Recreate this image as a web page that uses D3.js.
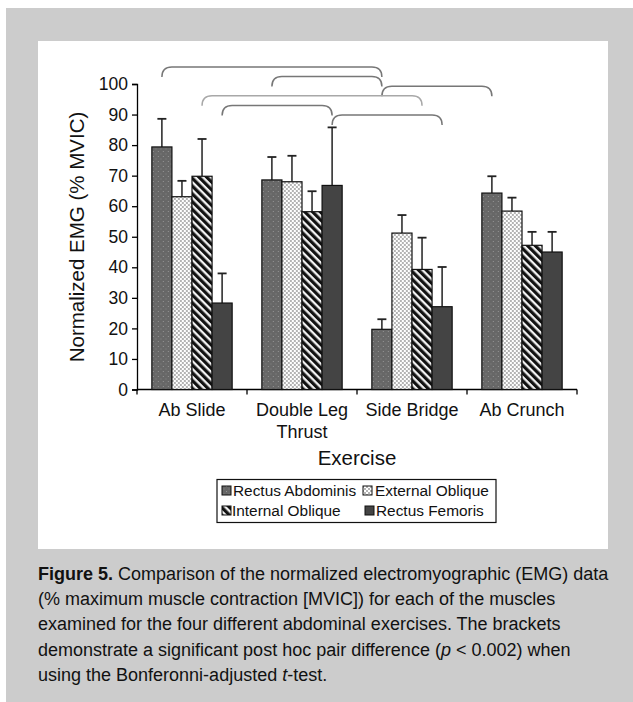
<!DOCTYPE html>
<html>
<head>
<meta charset="utf-8">
<title>Figure 5 | D3</title>
<style>
    body { margin: 0; background: #fff; }
    svg { display: block; }
</style>
<script src="https://d3js.org/d3.v7.min.js"></script>
</head>
<body>
<script>
// data
var exercises = ["Ab Slide", "Double Leg Thrust", "Side Bridge", "Ab Crunch"];
var muscles = ["Rectus Abdominis", "External Oblique", "Internal Oblique", "Rectus Femoris"];
// mean values, one row per exercise, columns follow muscles
var means = [
    [79.4, 63.1, 69.8, 28.3],
    [68.6, 68.0, 58.2, 66.8],
    [19.7, 51.2, 39.3, 27.1],
    [64.3, 58.4, 47.2, 45.0]
];
// top of each error bar
var errTops = [
    [88.6, 68.3, 82.0, 38.0],
    [76.1, 76.5, 64.9, 85.8],
    [23.0, 57.1, 49.7, 40.1],
    [69.8, 62.8, 51.6, 51.6]
];
var yTicks = [0, 10, 20, 30, 40, 50, 60, 70, 80, 90, 100];
// significant pairs: [exercise, muscle] -> [exercise, muscle], level from top
var brackets = [
    { from: [0, 0], to: [2, 0], level: 0, light: false },
    { from: [1, 0], to: [2, 0], level: 1, light: false },
    { from: [2, 0], to: [3, 0], level: 2, light: false },
    { from: [0, 2], to: [2, 2], level: 3, light: true },
    { from: [0, 3], to: [1, 3], level: 4, light: false },
    { from: [1, 3], to: [2, 3], level: 5, light: false }
];

var W = 633, H = 702;
var svg = d3.select("body").append("svg").attr("width", W).attr("height", H);

// grey page frame and white panel
svg.append("rect").attr("x", 6).attr("y", 8).attr("width", W - 6).attr("height", H - 8).attr("fill", "#cccccc");
svg.append("rect").attr("x", 38).attr("y", 41).attr("width", 570).attr("height", 508).attr("fill", "#ffffff");

// patterns
var defs = svg.append("defs");
var pRA = defs.append("pattern").attr("id", "pRA").attr("patternUnits", "userSpaceOnUse")
    .attr("width", 5).attr("height", 5);
pRA.append("rect").attr("width", 5).attr("height", 5).attr("fill", "#676767");
pRA.append("rect").attr("x", 1).attr("y", 1).attr("width", 1).attr("height", 1).attr("fill", "#959595");
pRA.append("rect").attr("x", 3.5).attr("y", 3.5).attr("width", 1).attr("height", 1).attr("fill", "#858585");

var pEO = defs.append("pattern").attr("id", "pEO").attr("patternUnits", "userSpaceOnUse")
    .attr("width", 4).attr("height", 4);
pEO.append("rect").attr("width", 4).attr("height", 4).attr("fill", "#ffffff");
pEO.append("rect").attr("width", 2).attr("height", 2).attr("fill", "#b4b4b4");
pEO.append("rect").attr("x", 2).attr("y", 2).attr("width", 2).attr("height", 2).attr("fill", "#b4b4b4");

var pIO = defs.append("pattern").attr("id", "pIO").attr("patternUnits", "userSpaceOnUse")
    .attr("width", 5.5).attr("height", 5.5).attr("patternTransform", "rotate(-45)");
pIO.append("rect").attr("width", 5.5).attr("height", 5.5).attr("fill", "#f2f2f2");
pIO.append("rect").attr("width", 3.2).attr("height", 5.5).attr("fill", "#111111");

var fills = ["url(#pRA)", "url(#pEO)", "url(#pIO)", "#444444"];

// scales
var x0 = d3.scaleBand().domain(d3.range(exercises.length)).range([137, 577])
    .paddingInner(0.27).paddingOuter(0.135);
var x1 = d3.scaleBand().domain(d3.range(muscles.length)).range([0, x0.bandwidth()]);
var y = d3.scaleLinear().domain([0, 100]).range([389.5, 84]);

var font = "'Liberation Sans', Arial, sans-serif";

// y axis
var yAxis = svg.append("g").attr("transform", "translate(137,0)")
    .call(d3.axisLeft(y).tickValues(yTicks).tickSize(5).tickPadding(4));
yAxis.select(".domain").attr("stroke", "#000").attr("stroke-width", 1.3);
yAxis.selectAll(".tick line").attr("stroke", "#000").attr("stroke-width", 1.3);
yAxis.selectAll("text").attr("font-family", font).attr("font-size", 17.5).attr("fill", "#111");

// x axis: ticks on group boundaries
var xAxisG = svg.append("g");
xAxisG.append("line").attr("x1", 137).attr("x2", 577).attr("y1", y(0)).attr("y2", y(0))
    .attr("stroke", "#000").attr("stroke-width", 1.3);
var bounds = d3.range(exercises.length + 1).map(function(i) { return 137 + i * x0.step(); });
xAxisG.selectAll(".xt").data(bounds).enter().append("line")
    .attr("x1", function(d) { return d; }).attr("x2", function(d) { return d; })
    .attr("y1", y(0)).attr("y2", y(0) + 5)
    .attr("stroke", "#000").attr("stroke-width", 1.3);

var catLabels = xAxisG.selectAll(".cat").data(exercises).enter().append("text")
    .attr("text-anchor", "middle").attr("font-family", font).attr("font-size", 18).attr("fill", "#111")
    .attr("transform", function(d, i) { return "translate(" + (x0(i) + x0.bandwidth() / 2) + ",416)"; });
catLabels.each(function(d) {
    var t = d3.select(this);
    var parts = d === "Double Leg Thrust" ? ["Double Leg", "Thrust"] : [d];
    parts.forEach(function(p, k) {
        t.append("tspan").attr("x", 0).attr("dy", k === 0 ? 0 : 22).text(p);
    });
});

// bars
var groups = svg.selectAll(".grp").data(exercises).enter().append("g")
    .attr("transform", function(d, i) { return "translate(" + x0(i) + ",0)"; });

groups.each(function(d, i) {
    var g = d3.select(this);
    muscles.forEach(function(m, j) {
        var cx = x1(j) + x1.bandwidth() / 2;
        g.append("line").attr("x1", cx).attr("x2", cx)
            .attr("y1", y(means[i][j])).attr("y2", y(errTops[i][j]))
            .attr("stroke", "#222").attr("stroke-width", 1.5);
        g.append("line").attr("x1", cx - 4.5).attr("x2", cx + 4.5)
            .attr("y1", y(errTops[i][j])).attr("y2", y(errTops[i][j]))
            .attr("stroke", "#222").attr("stroke-width", 1.8);
        g.append("rect").attr("x", x1(j)).attr("width", x1.bandwidth())
            .attr("y", y(means[i][j])).attr("height", y(0) - y(means[i][j]))
            .attr("fill", fills[j]).attr("stroke", "#111").attr("stroke-width", 1.2);
    });
});

// brackets
function barCenter(p) { return x0(p[0]) + x1(p[1]) + x1.bandwidth() / 2; }
var bTop = d3.scaleLinear().domain([0, 5]).range([67, 115]);
svg.selectAll(".br").data(brackets).enter().append("path")
    .attr("fill", "none")
    .attr("stroke", function(d) { return d.light ? "#a8a8a8" : "#777777"; })
    .attr("stroke-width", 1.5)
    .attr("d", function(d) {
        var xa = barCenter(d.from), xb = barCenter(d.to), yt = bTop(d.level), r = 10;
        return "M" + xa + "," + (yt + r) + " Q" + xa + "," + yt + " " + (xa + r) + "," + yt +
            " L" + (xb - r) + "," + yt + " Q" + xb + "," + yt + " " + xb + "," + (yt + r);
    });

// axis titles
svg.append("text").attr("transform", "translate(84,237) rotate(-90)").attr("text-anchor", "middle")
    .attr("font-family", font).attr("font-size", 20.5).attr("fill", "#111")
    .text("Normalized EMG (% MVIC)");
svg.append("text").attr("x", 357).attr("y", 465).attr("text-anchor", "middle")
    .attr("font-family", font).attr("font-size", 20.5).attr("fill", "#111")
    .text("Exercise");

// legend
var leg = svg.append("g");
leg.append("rect").attr("x", 217).attr("y", 479.5).attr("width", 279).attr("height", 43)
    .attr("fill", "#fff").attr("stroke", "#111").attr("stroke-width", 1.2);
var legPos = [[222, 496], [363, 496], [222, 516], [365, 516]];
var legText = [233, 375, 232, 376];
muscles.forEach(function(m, j) {
    leg.append("rect").attr("x", legPos[j][0]).attr("y", legPos[j][1] - 10).attr("width", 9).attr("height", 9)
        .attr("fill", fills[j]).attr("stroke", "#111").attr("stroke-width", 1);
    leg.append("text").attr("x", legText[j]).attr("y", legPos[j][1])
        .attr("font-family", font).attr("font-size", 15.4).attr("fill", "#111").text(m);
});

// caption
var capLines = [
    [["Figure 5.", "b"], [" Comparison of the normalized electromyographic (EMG) data", ""]],
    [["(% maximum muscle contraction [MVIC]) for each of the muscles", ""]],
    [["examined for the four different abdominal exercises. The brackets", ""]],
    [["demonstrate a significant post hoc pair difference (", ""], ["p", "i"], [" < 0.002) when", ""]],
    [["using the Bonferonni-adjusted ", ""], ["t", "i"], ["-test.", ""]]
];
var cap = svg.append("text").attr("font-family", font).attr("font-size", 18).attr("fill", "#111");
capLines.forEach(function(line, k) {
    line.forEach(function(seg, s) {
        var ts = cap.append("tspan").text(seg[0]);
        if (s === 0) ts.attr("x", 38).attr("y", 580 + k * 25.2);
        if (seg[1] === "b") ts.attr("font-weight", "bold");
        if (seg[1] === "i") ts.attr("font-style", "italic");
    });
});
</script>
</body>
</html>
